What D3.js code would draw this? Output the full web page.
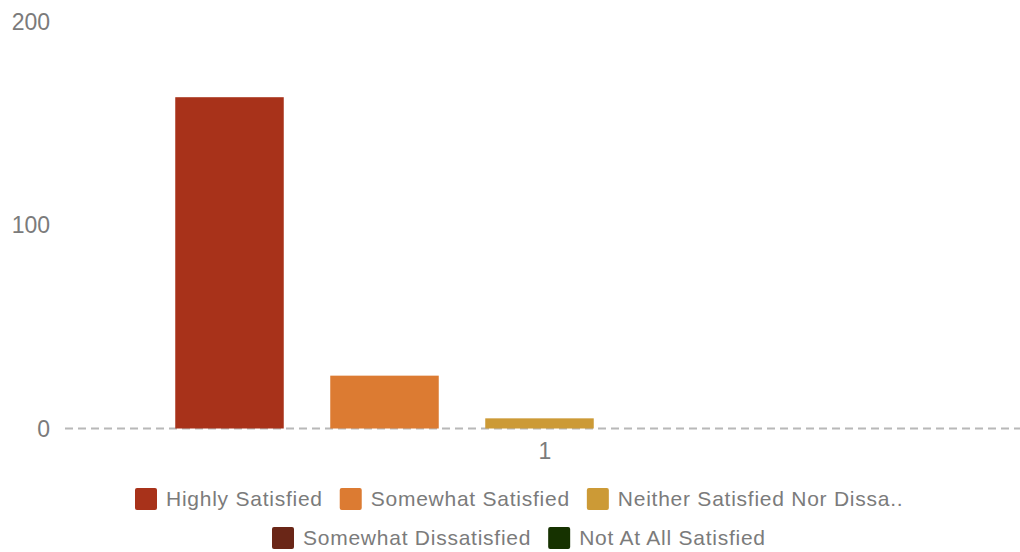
<!DOCTYPE html>
<html>
<head>
<meta charset="utf-8">
<script src="https://cdn.jsdelivr.net/npm/d3@7"></script>
<style>
  html, body { margin: 0; padding: 0; background: #fff; }
  svg { display: block; font-family: "Liberation Sans", Arial, Helvetica, sans-serif; }
</style>
</head>
<body>
<svg id="chart" width="1020" height="552"></svg>
<script>
const categories = ["1"];
const seriesNames = ["Highly Satisfied", "Somewhat Satisfied", "Neither Satisfied Nor Dissa..", "Somewhat Dissatisfied", "Not At All Satisfied"];
const seriesValues = [163, 26, 5, 0, 0];
const seriesColors = ["#a8321a", "#dc7b32", "#cc9a36", "#6a2617", "#163200"];
const yTicks = [0, 100, 200];

const svg = d3.select("#chart");
const textColor = "#7b7b7b";

const y = d3.scaleLinear().domain([0, 200]).range([428.5, 22]);
const xCat = d3.scaleBand().domain(categories).range([70, 1020]);
const xSer = d3.scaleBand().domain(seriesNames).range([152, 927]).paddingInner(0.3).paddingOuter(0.15);

// baseline dashed
svg.append("line")
  .attr("x1", 65).attr("x2", 1020)
  .attr("y1", y(0)).attr("y2", y(0))
  .attr("stroke", "#b8b8b8").attr("stroke-width", 2)
  .attr("stroke-dasharray", "8,5");

// y tick labels
svg.append("g").selectAll("text").data(yTicks).join("text")
  .attr("x", 50).attr("y", d => y(d))
  .attr("dy", "0.35em")
  .attr("text-anchor", "end")
  .attr("font-size", 23)
  .attr("fill", textColor)
  .text(d => d);

// bars
const data = seriesNames.map((s, i) => ({ name: s, value: seriesValues[i], color: seriesColors[i] }));
svg.append("g").selectAll("rect").data(data.filter(d => d.value > 0)).join("rect")
  .attr("x", d => xSer(d.name))
  .attr("width", xSer.bandwidth())
  .attr("y", d => y(d.value))
  .attr("height", d => y(0) - y(d.value))
  .attr("fill", d => d.color);

// category label
svg.append("g").selectAll("text").data(categories).join("text")
  .attr("x", d => xCat(d) + xCat.bandwidth() / 2)
  .attr("y", 459)
  .attr("text-anchor", "middle")
  .attr("font-size", 23)
  .attr("fill", textColor)
  .text(d => d);

// legend
const rows = [
  { items: [0, 1, 2], x: 135, y: 499 },
  { items: [3, 4], x: 272, y: 538 }
];
rows.forEach(r => {
  let cx = r.x;
  r.items.forEach(i => {
    const g = svg.append("g");
    g.append("rect")
      .attr("x", cx).attr("y", r.y - 11)
      .attr("width", 22).attr("height", 22)
      .attr("rx", 2)
      .attr("fill", seriesColors[i]);
    const t = g.append("text")
      .attr("x", cx + 31).attr("y", r.y)
      .attr("dy", "0.35em")
      .attr("font-size", 21)
      .attr("letter-spacing", 0.75)
      .attr("fill", textColor)
      .text(seriesNames[i]);
    const w = t.node().getComputedTextLength();
    cx = cx + 31 + w + 17;
  });
});
</script>
</body>
</html>
